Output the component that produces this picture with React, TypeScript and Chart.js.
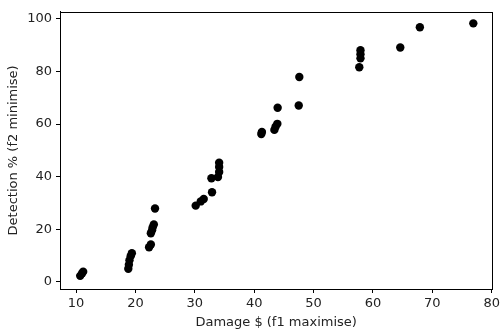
import React, { useEffect, useRef } from "react";
import { Chart, registerables } from "chart.js";

Chart.register(...registerables);

const damage: number[] = [
  10.7, 11.0, 11.2,
  18.8, 18.9, 19.0, 19.2, 19.4,
  22.3, 22.6, 22.6, 22.8, 22.9, 23.1, 23.3,
  30.15, 31.0, 31.5, 32.9, 32.8, 33.9, 34.1, 34.1, 34.1,
  41.2, 41.3, 43.4, 43.6, 43.9, 43.95, 47.5, 47.6,
  57.7, 57.9, 57.9, 57.9, 64.6, 67.9, 76.9,
];
const detection: number[] = [
  2.3, 3.2, 3.9,
  5.0, 6.5, 8.2, 9.8, 10.9,
  13.2, 14.2, 18.5, 19.6, 20.7, 21.8, 27.9,
  29.0, 30.6, 31.5, 34.1, 39.4, 39.9, 41.8, 43.7, 45.3,
  56.2, 57.0, 57.8, 59.0, 60.1, 66.2, 67.1, 77.9,
  81.6, 85.0, 86.6, 88.1, 89.1, 96.8, 98.3,
];
const xTicks: number[] = [10, 20, 30, 40, 50, 60, 70, 80];
const yTicks: number[] = [0, 20, 40, 60, 80, 100];
const xLabel = "Damage $ (f1 maximise)";
const yLabel = "Detection % (f2 minimise)";

const framePlugin = {
  id: "frame",
  afterDraw(chart: any) {
    const { ctx, chartArea } = chart;
    ctx.save();
    ctx.strokeStyle = "#000";
    ctx.lineWidth = 1;
    ctx.strokeRect(
      Math.round(chartArea.left) + 0.5,
      Math.round(chartArea.top) + 0.5,
      Math.round(chartArea.right - chartArea.left),
      Math.round(chartArea.bottom - chartArea.top)
    );
    ctx.restore();
  },
};

export default function App() {
  const ref = useRef<HTMLCanvasElement | null>(null);
  useEffect(() => {
    document.body.style.margin = "0";
    if (!ref.current) return;
    const font = { family: "DejaVu Sans", size: 13 };
    const chart = new Chart(ref.current, {
      type: "scatter",
      data: {
        datasets: [
          {
            data: damage.map((x, i) => ({ x, y: detection[i] })),
            backgroundColor: "#000",
            borderWidth: 0,
            pointRadius: 4.2,
          },
        ],
      },
      options: {
        animation: false,
        responsive: false,
        layout: { padding: { top: 7, right: 7, left: 0, bottom: 0 } },
        plugins: { legend: { display: false }, tooltip: { enabled: false } },
        scales: {
          x: {
            type: "linear",
            min: 7.3,
            max: 80.1,
            afterBuildTicks: (s: any) => {
              s.ticks = xTicks.map((v) => ({ value: v }));
            },
            afterFit: (s: any) => {
              s.height = 45;
            },
            grid: { drawOnChartArea: false, drawTicks: true, tickLength: 4, color: "#000" },
            border: { display: true, color: "#000" },
            ticks: { color: "#222", font, padding: 3, maxRotation: 0 },
            title: { display: true, text: xLabel, color: "#222", font, padding: { top: 2, bottom: 4 } },
          },
          y: {
            type: "linear",
            min: -2.7,
            max: 102.7,
            afterBuildTicks: (s: any) => {
              s.ticks = yTicks.map((v) => ({ value: v }));
            },
            afterFit: (s: any) => {
              s.width = 60;
            },
            grid: { drawOnChartArea: false, drawTicks: true, tickLength: 4, color: "#000" },
            border: { display: true, color: "#000" },
            ticks: { color: "#222", font, padding: 4 },
            title: { display: true, text: yLabel, color: "#222", font, padding: { top: 6, bottom: 2 } },
          },
        },
      },
      plugins: [framePlugin],
    });
    return () => chart.destroy();
  }, []);
  return <canvas ref={ref} width={503} height={334} style={{ display: "block" }} />;
}
